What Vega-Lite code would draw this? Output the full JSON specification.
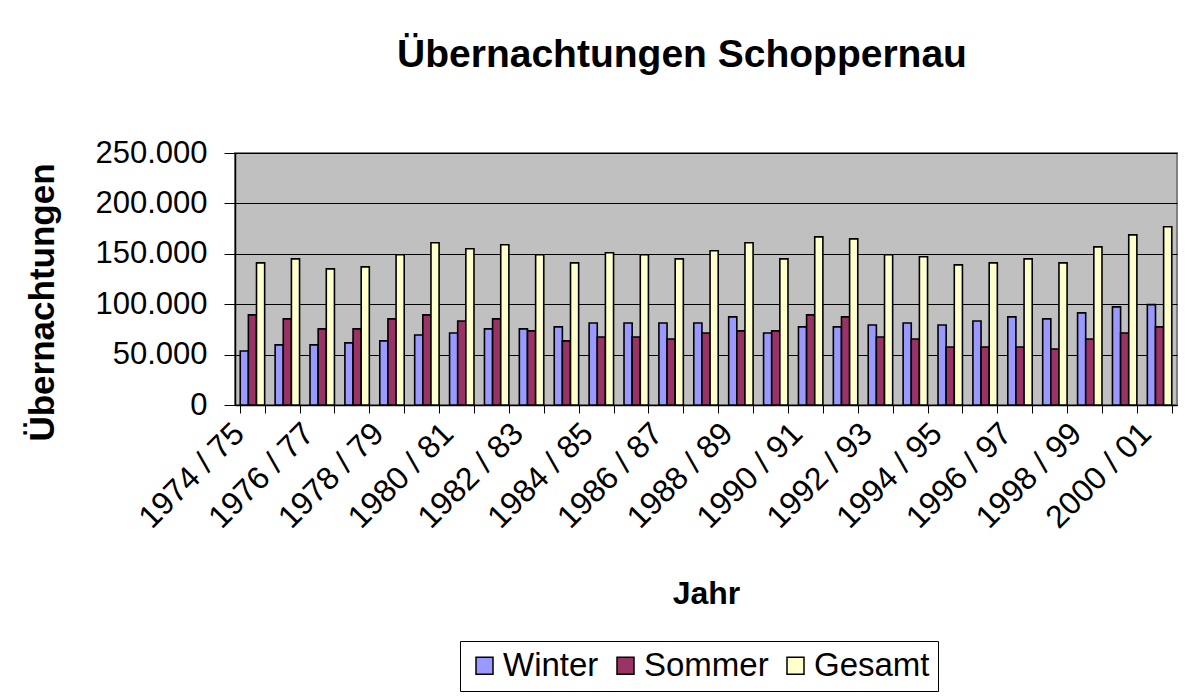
{
  "$schema": "https://vega.github.io/schema/vega-lite/v6.json",
  "width": 942,
  "height": 252,
  "autosize": {"type": "none"},
  "padding": {"left": 235, "top": 153, "right": 12, "bottom": 295},
  "background": "white",
  "title": {"text": "Übernachtungen Schoppernau", "font": "Liberation Sans", "fontSize": 39, "fontWeight": "bold", "color": "black", "anchor": "middle", "dx": -24, "offset": 62},
  "data": {"values": [
    {"Jahr": "1974 / 75", "Winter": 53600, "Sommer": 89400, "Gesamt": 141000},
    {"Jahr": "1975 / 76", "Winter": 59600, "Sommer": 85400, "Gesamt": 145000},
    {"Jahr": "1976 / 77", "Winter": 59600, "Sommer": 75500, "Gesamt": 135000},
    {"Jahr": "1977 / 78", "Winter": 61600, "Sommer": 75500, "Gesamt": 137000},
    {"Jahr": "1978 / 79", "Winter": 63600, "Sommer": 85400, "Gesamt": 149000},
    {"Jahr": "1979 / 80", "Winter": 69500, "Sommer": 89400, "Gesamt": 161000},
    {"Jahr": "1980 / 81", "Winter": 71500, "Sommer": 83400, "Gesamt": 155000},
    {"Jahr": "1981 / 82", "Winter": 75500, "Sommer": 85400, "Gesamt": 159000},
    {"Jahr": "1982 / 83", "Winter": 75500, "Sommer": 73500, "Gesamt": 149000},
    {"Jahr": "1983 / 84", "Winter": 77500, "Sommer": 63600, "Gesamt": 141000},
    {"Jahr": "1984 / 85", "Winter": 81400, "Sommer": 67500, "Gesamt": 151000},
    {"Jahr": "1985 / 86", "Winter": 81400, "Sommer": 67500, "Gesamt": 149000},
    {"Jahr": "1986 / 87", "Winter": 81400, "Sommer": 65500, "Gesamt": 145000},
    {"Jahr": "1987 / 88", "Winter": 81400, "Sommer": 71500, "Gesamt": 153000},
    {"Jahr": "1988 / 89", "Winter": 87400, "Sommer": 73500, "Gesamt": 161000},
    {"Jahr": "1989 / 90", "Winter": 71500, "Sommer": 73500, "Gesamt": 145000},
    {"Jahr": "1990 / 91", "Winter": 77500, "Sommer": 89400, "Gesamt": 166800},
    {"Jahr": "1991 / 92", "Winter": 77500, "Sommer": 87400, "Gesamt": 164800},
    {"Jahr": "1992 / 93", "Winter": 79400, "Sommer": 67500, "Gesamt": 149000},
    {"Jahr": "1993 / 94", "Winter": 81400, "Sommer": 65500, "Gesamt": 147000},
    {"Jahr": "1994 / 95", "Winter": 79400, "Sommer": 57600, "Gesamt": 139000},
    {"Jahr": "1995 / 96", "Winter": 83400, "Sommer": 57600, "Gesamt": 141000},
    {"Jahr": "1996 / 97", "Winter": 87400, "Sommer": 57600, "Gesamt": 145000},
    {"Jahr": "1997 / 98", "Winter": 85400, "Sommer": 55600, "Gesamt": 141000},
    {"Jahr": "1998 / 99", "Winter": 91400, "Sommer": 65500, "Gesamt": 156900},
    {"Jahr": "1999 / 00", "Winter": 97300, "Sommer": 71500, "Gesamt": 168800},
    {"Jahr": "2000 / 01", "Winter": 99600, "Sommer": 77500, "Gesamt": 176800}
  ]},
  "transform": [{"fold": ["Winter", "Sommer", "Gesamt"], "as": ["Art", "Wert"]}],
  "mark": {"type": "bar", "stroke": "black", "strokeWidth": 1.6},
  "encoding": {
    "x": {
      "field": "Jahr", "type": "nominal", "sort": null,
      "scale": {"paddingInner": 0.3, "paddingOuter": 0.15},
      "axis": {
        "title": "Jahr", "titleFontSize": 32, "titleFontWeight": "bold", "titleColor": "black",
        "titleBaseline": "alphabetic", "titleY": 198,
        "labelAngle": -45, "labelFontSize": 32, "labelColor": "black", "labelAlign": "right", "labelBaseline": "middle",
        "labelExpr": "parseInt(substring(datum.value, 0, 4)) % 2 == 0 ? datum.value : ''",
        "labelOverlap": false, "labelPadding": 15, "labelOffset": -14,
        "tickBand": "extent",
        "tickColor": "black", "tickSize": 8, "domainColor": "black", "domainWidth": 1.5
      }
    },
    "xOffset": {"field": "Art", "type": "nominal", "sort": ["Winter", "Sommer", "Gesamt"], "scale": {"paddingInner": 0, "paddingOuter": 0}},
    "y": {
      "field": "Wert", "type": "quantitative",
      "scale": {"domain": [0, 250000]},
      "axis": {
        "title": "Übernachtungen", "titleFontSize": 35, "titleFontWeight": "bold", "titleColor": "black",
        "titleX": -175, "titleY": 149, "titleBaseline": "bottom", "titleAngle": -90,
        "values": [0, 50000, 100000, 150000, 200000, 250000],
        "labelExpr": "replace(format(datum.value, ','), ',', '.')",
        "labelFontSize": 31, "labelColor": "black", "labelPadding": 17,
        "tickSize": 11, "tickColor": "black", "domainColor": "black", "domainWidth": 1.5,
        "grid": true, "gridColor": "black", "gridOpacity": 1, "gridWidth": 1
      }
    },
    "color": {
      "field": "Art", "type": "nominal",
      "scale": {"domain": ["Winter", "Sommer", "Gesamt"], "range": ["#9999FF", "#993366", "#FFFFCC"]},
      "legend": {
        "title": null, "orient": "none", "legendX": 225, "legendY": 488, "direction": "horizontal",
        "labelFontSize": 33, "labelColor": "black", "labelOffset": 2,
        "symbolType": "square", "symbolSize": 289, "symbolStrokeColor": "black", "symbolStrokeWidth": 1.5, "symbolOpacity": 1,
        "strokeColor": "black", "fillColor": "white", "padding": 8, "columnPadding": 10
      }
    }
  },
  "config": {
    "font": "Liberation Sans",
    "view": {"fill": "#C0C0C0", "stroke": "#808080", "strokeWidth": 2}
  }
}
